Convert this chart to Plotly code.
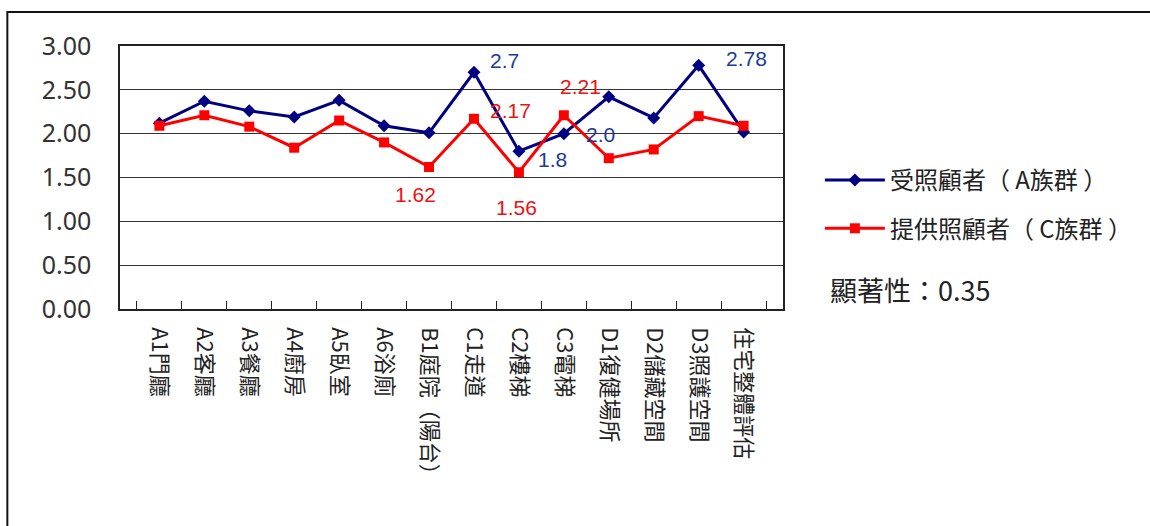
import plotly.graph_objects as go

categories = ["A1門廳", "A2客廳", "A3餐廳", "A4廚房", "A5臥室", "A6浴廁", "B1庭院（陽台）",
              "C1走道", "C2樓梯", "C3電梯", "D1復健場所", "D2儲藏空間", "D3照護空間", "住宅整體評估"]
series_a = [2.12, 2.37, 2.26, 2.19, 2.38, 2.09, 2.01, 2.70, 1.80, 2.00, 2.42, 2.18, 2.78, 2.02]
series_c = [2.09, 2.21, 2.08, 1.84, 2.15, 1.90, 1.62, 2.17, 1.56, 2.21, 1.72, 1.82, 2.20, 2.09]
name_a = "受照顧者（ A族群 ）"
name_c = "提供照顧者（ C族群 ）"
y_ticks = [0.0, 0.5, 1.0, 1.5, 2.0, 2.5, 3.0]
significance = "顯著性：0.35"

# labelled points: (index, text, xshift, yshift)
labels_a = [(7, "2.7", 31, 12), (8, "1.8", 34, -8), (9, "2.0", 37, -1), (12, "2.78", 48, 7)]
labels_c = [(6, "1.62", -14, -28), (7, "2.17", 37, 8), (8, "1.56", -2, -35), (9, "2.21", 17, 29)]

BLUE = "#000080"
RED = "#ff0000"
CJK = "Noto Sans CJK TC"

fig = go.Figure()
fig.add_trace(go.Scatter(x=categories, y=series_a, name=name_a, mode="lines+markers",
                         line=dict(color=BLUE, width=3),
                         marker=dict(symbol="diamond", size=10, color=BLUE),
                         legendgroup="a"))
fig.add_trace(go.Scatter(x=categories, y=series_c, name=name_c, mode="lines+markers",
                         line=dict(color=RED, width=3),
                         marker=dict(symbol="square", size=10, color=RED),
                         legendgroup="c"))

annotations = []
for i, t, dx, dy in labels_a:
    annotations.append(dict(x=categories[i], y=series_a[i], text=t, showarrow=False,
                            xshift=dx, yshift=dy,
                            font=dict(family="Liberation Sans, Arial", size=21, color="#1a3a9a")))
for i, t, dx, dy in labels_c:
    annotations.append(dict(x=categories[i], y=series_c[i], text=t, showarrow=False,
                            xshift=dx, yshift=dy,
                            font=dict(family="Liberation Sans, Arial", size=21, color="#ee1111")))
annotations.append(dict(xref="paper", yref="paper", x=(830 - 120) / 665, y=(309 - 289) / 263,
                        xanchor="left", yanchor="middle", text=significance, showarrow=False,
                        font=dict(family=CJK, size=27, color="#222222")))

fig.update_layout(
    width=1150, height=526,
    margin=dict(l=120, r=365, t=46, b=217),
    paper_bgcolor="white", plot_bgcolor="white",
    showlegend=True,
    legend=dict(x=(822 - 120) / 665, y=(309 - 158) / 263, xanchor="left", yanchor="top",
                font=dict(family=CJK, size=24, color="#222222"), itemwidth=60,
                tracegroupgap=14, traceorder="grouped", bgcolor="rgba(0,0,0,0)"),
    annotations=annotations,
    xaxis=dict(type="category", categoryorder="array", categoryarray=categories,
               tickangle=90, tickson="boundaries", ticks="inside", ticklen=8,
               tickcolor="#222222", showline=True, linecolor="#222222", linewidth=1.5,
               mirror=True, showgrid=False, ticklabelstandoff=12,
               tickfont=dict(family=CJK, size=22, color="#222222")),
    yaxis=dict(range=[0, 3], tickvals=y_ticks, tickformat=".2f",
               showgrid=True, gridcolor="#333333", gridwidth=1,
               showline=True, linecolor="#222222", linewidth=1.5, mirror=True,
               zeroline=False, ticks="", ticklabelstandoff=22,
               tickfont=dict(family="Noto Sans, Open Sans", size=25, color="#333333")),
    shapes=[dict(type="rect", xref="paper", yref="paper",
                 x0=(7 - 120) / 665, x1=(1160 - 120) / 665,
                 y0=(309 - 540) / 263, y1=(309 - 12) / 263,
                 line=dict(color="#111111", width=2), fillcolor="rgba(0,0,0,0)", layer="below")],
)

fig.write_html("out.html")
